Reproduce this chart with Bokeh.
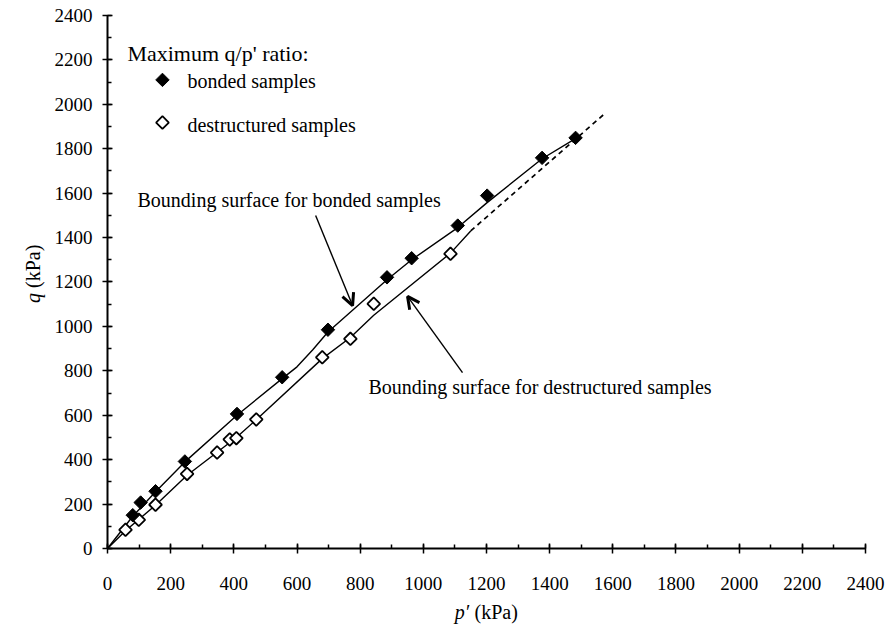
import numpy as np
from bokeh.plotting import figure
from bokeh.models import (Range1d, SingleIntervalTicker, Label, Arrow, OpenHead,
                          LinearAxis)
from bokeh.embed import file_html
from bokeh.resources import INLINE

# Peak stress ratio points (p' and q in kPa)
bonded_p = [80, 105, 152, 245, 410, 553, 698, 885, 963, 1109, 1202, 1376, 1482]
bonded_q = [150, 207, 258, 392, 606, 771, 985, 1221, 1307, 1454, 1589, 1759, 1849]

destructured_p = [57, 99, 152, 252, 347, 387, 408, 471, 680, 769, 843, 1086]
destructured_q = [84, 129, 197, 336, 432, 491, 497, 581, 861, 944, 1102, 1327]

# Bounding surfaces
bonded_surface_p = [0, 80, 150, 245, 410, 553, 600, 650, 698, 885, 963, 1109, 1200, 1376, 1475]
bonded_surface_q = [0, 145, 252, 390, 600, 765, 818, 895, 975, 1210, 1300, 1445, 1555, 1755, 1840]

destructured_surface_p = [0, 57, 152, 252, 408, 471, 680, 769, 843, 1086, 1150]
destructured_surface_q = [0, 80, 195, 330, 500, 580, 855, 950, 1050, 1330, 1430]

# Extrapolated destructured surface
extension_p = [1150, 1571]
extension_q = [1430, 1954]

AXIS_MAX = 2400
SERIF = "Liberation Serif"

# The frame fills the whole canvas; axes sit at p' = 0 and q = 0 so that the
# titles and labels around them can be placed in data units.
p = figure(width=892, height=630, output_backend="svg", toolbar_location=None,
           x_range=Range1d(-338.8, 2485.5), y_range=Range1d(-369.2, 2467.5),
           x_axis_location=None, y_axis_location=None,
           min_border_left=0, min_border_right=0, min_border_top=0,
           min_border_bottom=0)
p.outline_line_color = None
p.grid.visible = False
p.background_fill_color = "white"
p.border_fill_color = "white"

xaxis = LinearAxis(fixed_location=0, bounds=(0, AXIS_MAX))
yaxis = LinearAxis(fixed_location=0, bounds=(0, AXIS_MAX))
p.add_layout(xaxis, "below")
p.add_layout(yaxis, "left")

for ax in (xaxis, yaxis):
    ax.ticker = SingleIntervalTicker(interval=200, num_minor_ticks=2)
    ax.axis_line_width = 2
    ax.axis_line_color = "black"
    ax.major_tick_in = 5
    ax.major_tick_out = 5
    ax.major_tick_line_width = 1.5
    ax.minor_tick_in = 4
    ax.minor_tick_out = 0
    ax.minor_tick_line_width = 1.5
    ax.major_label_text_font = SERIF
    ax.major_label_text_font_size = "19px"
    ax.major_label_text_color = "black"
xaxis.major_label_standoff = 23
yaxis.major_label_standoff = 10

# surfaces
p.line(bonded_surface_p, bonded_surface_q, line_color="black", line_width=1.4)
p.line(destructured_surface_p, destructured_surface_q, line_color="black", line_width=1.4)
p.line(extension_p, extension_q, line_color="black", line_width=1.7, line_dash="5 4")

# data points
p.scatter(destructured_p, destructured_q, marker="square", angle=np.pi / 4, size=9,
          fill_color="white", line_color="black", line_width=1.8)
p.scatter(bonded_p, bonded_q, marker="square", angle=np.pi / 4, size=9.5,
          fill_color="black", line_color="black", line_width=1)

# legend
p.add_layout(Label(x=63, y=2229, text="Maximum q/p' ratio:", text_font=SERIF,
                   text_font_size="22px", text_baseline="middle", text_color="black"))
p.scatter([174], [2110], marker="square", angle=np.pi / 4, size=9.5,
          fill_color="black", line_color="black")
p.scatter([174], [1918], marker="square", angle=np.pi / 4, size=9,
          fill_color="white", line_color="black", line_width=1.8)
p.add_layout(Label(x=253, y=2103, text="bonded samples", text_font=SERIF,
                   text_font_size="20px", text_baseline="middle", text_color="black"))
p.add_layout(Label(x=253, y=1909, text="destructured samples", text_font=SERIF,
                   text_font_size="20px", text_baseline="middle", text_color="black"))

# annotations
p.add_layout(Label(x=95, y=1567, text="Bounding surface for bonded samples",
                   text_font=SERIF, text_font_size="20px", text_baseline="middle",
                   text_color="black"))
p.add_layout(Label(x=826, y=729, text="Bounding surface for destructured samples",
                   text_font=SERIF, text_font_size="20px", text_baseline="middle",
                   text_color="black"))
p.add_layout(Arrow(end=OpenHead(size=12, line_width=3, line_color="black"),
                   x_start=659, y_start=1499, x_end=776, y_end=1094,
                   line_width=1.4, line_color="black"))
p.add_layout(Arrow(end=OpenHead(size=12, line_width=3, line_color="black"),
                   x_start=1124, y_start=792, x_end=950, y_end=1135,
                   line_width=1.4, line_color="black"))

# axis titles (italic variable, upright units)
p.add_layout(Label(x=1145, y=-288, text="p\u2032", text_font=SERIF, text_font_style="italic",
                   text_font_size="20px", text_align="right", text_baseline="middle",
                   text_color="black"))
p.add_layout(Label(x=1162, y=-288, text="(kPa)", text_font=SERIF,
                   text_font_size="20px", text_align="left", text_baseline="middle",
                   text_color="black"))
p.add_layout(Label(x=-237, y=1150, text="q", text_font=SERIF, text_font_style="italic",
                   text_font_size="20px", text_align="right", text_baseline="middle",
                   angle=np.pi / 2, text_color="black"))
p.add_layout(Label(x=-237, y=1173, text="(kPa)", text_font=SERIF,
                   text_font_size="20px", text_align="left", text_baseline="middle",
                   angle=np.pi / 2, text_color="black"))

open("out.html", "w").write(file_html(p, INLINE))
